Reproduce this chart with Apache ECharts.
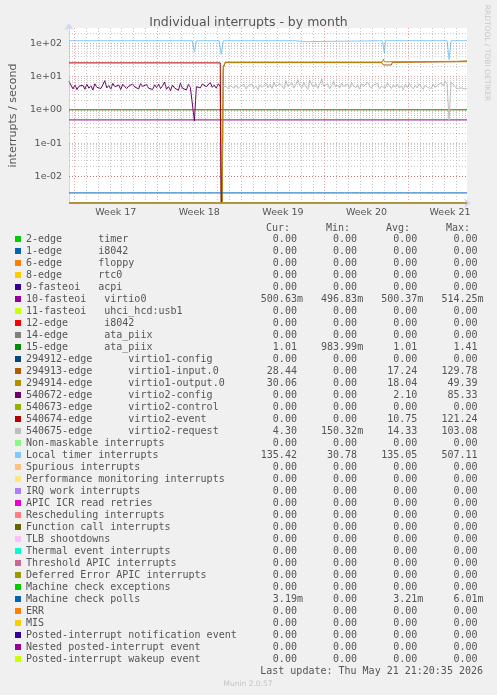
<!DOCTYPE html>
<html><head><meta charset="utf-8">
<script src="https://cdn.jsdelivr.net/npm/echarts@6/dist/echarts.min.js"></script>
<style>html,body{margin:0;padding:0;background:#f0f0f0}#c{width:497px;height:695px}</style>
</head><body><div id="c"></div><script>
// ---------------- data ----------------
const Y_MIN = 0.00158, Y_MAX = 292;           // log axis range (zero values rest on the floor)
const START_UTC = Date.UTC(2026, 3, 19, 14);   // first sample (2 h steps, 400 steps)
const STEP_HOURS = 2;
const N_STEPS = 400;

const legendLabels = [
'2-edge      timer',
'1-edge      i8042',
'6-edge      floppy',
'8-edge      rtc0',
'9-fasteoi   acpi',
'10-fasteoi   virtio0',
'11-fasteoi   uhci_hcd:usb1',
'12-edge      i8042',
'14-edge      ata_piix',
'15-edge      ata_piix',
'294912-edge      virtio1-config',
'294913-edge      virtio1-input.0',
'294914-edge      virtio1-output.0',
'540672-edge      virtio2-config',
'540673-edge      virtio2-control',
'540674-edge      virtio2-event',
'540675-edge      virtio2-request',
'Non-maskable interrupts',
'Local timer interrupts',
'Spurious interrupts',
'Performance monitoring interrupts',
'IRQ work interrupts',
'APIC ICR read retries',
'Rescheduling interrupts',
'Function call interrupts',
'TLB shootdowns',
'Thermal event interrupts',
'Threshold APIC interrupts',
'Deferred Error APIC interrupts',
'Machine check exceptions',
'Machine check polls',
'ERR',
'MIS',
'Posted-interrupt notification event',
'Nested posted-interrupt event',
'Posted-interrupt wakeup event'];

const palette = ['#00CC00','#0066B3','#FF8000','#FFCC00','#330099','#990099','#CCFF00','#FF0000','#808080',
'#008F00','#00487D','#B35A00','#B38F00','#6B006B','#8FB300','#B30000','#BEBEBE','#80FF80','#80C9FF',
'#FFC080','#FFE680','#AA80FF','#EE00CC','#FF8080','#666600','#FFBFFF','#00FFCC','#CC6699','#999900',
'#00CC00','#0066B3','#FF8000','#FFCC00','#330099','#990099','#CCFF00'];

const statCur = ['0.00','0.00','0.00','0.00','0.00','500.63m','0.00','0.00','0.00','1.01','0.00','28.44','30.06','0.00','0.00','0.00','4.30','0.00','135.42','0.00','0.00','0.00','0.00','0.00','0.00','0.00','0.00','0.00','0.00','0.00','3.19m','0.00','0.00','0.00','0.00','0.00'];
const statMin = ['0.00','0.00','0.00','0.00','0.00','496.83m','0.00','0.00','0.00','983.99m','0.00','0.00','0.00','0.00','0.00','0.00','150.32m','0.00','30.78','0.00','0.00','0.00','0.00','0.00','0.00','0.00','0.00','0.00','0.00','0.00','0.00','0.00','0.00','0.00','0.00','0.00'];
const statAvg = ['0.00','0.00','0.00','0.00','0.00','500.37m','0.00','0.00','0.00','1.01','0.00','17.24','18.04','2.10','0.00','10.75','14.33','0.00','135.05','0.00','0.00','0.00','0.00','0.00','0.00','0.00','0.00','0.00','0.00','0.00','3.21m','0.00','0.00','0.00','0.00','0.00'];
const statMax = ['0.00','0.00','0.00','0.00','0.00','514.25m','0.00','0.00','0.00','1.41','0.00','129.78','49.39','85.33','0.00','121.24','103.08','0.00','507.11','0.00','0.00','0.00','0.00','0.00','0.00','0.00','0.00','0.00','0.00','0.00','6.01m','0.00','0.00','0.00','0.00','0.00'];
const statHeaders = ['Cur:', 'Min:', 'Avg:', 'Max:'];

// series values, [sample index, value]
const zeroLine = [[0, 0], [400, 0]];
const virtio0Line = [[0, 0.5006], [400, 0.5006]];
const ataPiix15Line = [[0, 1.01], [400, 1.01]];
const virtio1InputLine = [[0,0],[154,0],[155,18],[157,26.5],[314,26.5],[316,22.5],[324,22.5],[325,27],[360,27.5],[400,28.4]];
const virtio1OutputLine = [[0,0],[154,0],[155,20],[157,27.5],[315,27.5],[316,34],[317,28],[390,29],[400,30]];
const virtio2EventLine = [[0,26],[152,26],[153,0],[400,0]];
const localTimerLine = [[0,121],[124,121],[126,56],[128,121],[151,121],[153,47],[155,121],[228,121],[229,113],[235,113],[236,121],[315,121],[317,50],[318,121],[380,121],[382,33],[384,121],[400,121]];
// virtio2-config: every 2nd sample from index 0
const virtio2ConfigVals = [7.2,6.9,4.3,5.6,4.1,5.2,4.6,5.5,4.2,5.9,
 4.5,5.3,4.0,6.1,4.8,5.0,4.4,5.7,7.6,4.6,
 5.4,4.2,6.3,5.0,4.7,5.6,4.1,5.9,6.6,4.4,
 5.2,4.7,6.0,4.9,5.5,4.3,6.2,5.1,4.8,5.8,
 4.5,5.0,4.1,5.7,4.7,6.0,4.4,5.3,6.9,4.2,
 5.1,3.8,5.6,4.6,5.2,3.9,6.4,4.5,5.1,4.0,
 5.8,4.8,5.4,0.47,5.0,5.7,4.6,6.0,6.5,5.0,
 4.4,6.7,4.8,5.6,4.5,6.1,5.0];
// virtio2-request: every 2nd sample from index 154
const virtio2RequestVals = [5.2,4.6,5.0,4.3,5.4,4.8,4.5,5.6,4.4,5.1,
 4.7,5.8,4.2,5.3,4.9,6.0,4.5,5.2,4.1,5.7,
 4.8,5.5,6.4,4.6,5.9,4.4,6.8,5.0,4.7,6.2,
 5.3,4.3,7.5,5.1,4.9,6.6,4.5,5.8,8.2,5.4,
 4.6,6.9,5.0,4.2,7.8,5.6,4.8,6.3,4.4,5.9,
 8.5,5.2,4.7,6.1,4.3,5.5,7.2,4.9,5.7,4.5,
 6.4,5.1,4.8,5.9,4.4,6.7,5.3,4.6,5.8,4.2,
 6.2,5.0,4.7,6.9,5.4,4.5,5.6,4.9,6.3,4.3,
 5.1,5.8,4.6,6.5,5.2,4.4,5.7,4.8,6.0,4.5,
 5.3,4.1,5.9,4.7,6.4,5.0,4.3,5.5,4.6,6.1,
 4.9,4.2,5.6,4.8,5.2,4.4,6.0,4.7,5.4,4.9,
 6.6,5.3,7.4,5.8,0.48,6.9,7.6,5.1,4.4,5.0,
 4.6,5.2,4.3,4.5];
// machine check polls: flat level with small periodic bumps
const mcpLevel = 0.00318, mcpBump = 0.0035;
const mcpBumpIdx = [1,8,15,23,30,37,45,52,59,66,74,81,88,96,103,110,118,125,132,139,147,154,161,169,176,183,191,198,205,212,220,227,234,242,249,256,264,271,278,285,293,300,307,315,322,329,337,344,351,358,366,373,380,388,395];

const weekLabelPrefix = 'Week ';
const lastUpdate = 'Last update: Thu May 21 21:20:35 2026';

// ---------------- build ----------------
const catDates = [], categories = [];
for (let i = 0; i <= N_STEPS; i++) {
  const d = new Date(START_UTC + i * STEP_HOURS * 3600e3);
  catDates.push(d);
  categories.push(d.toISOString().slice(0, 16));
}
function isoWeek(d) {
  const t = new Date(Date.UTC(d.getUTCFullYear(), d.getUTCMonth(), d.getUTCDate()));
  const day = t.getUTCDay() || 7;
  t.setUTCDate(t.getUTCDate() + 4 - day);
  const y0 = new Date(Date.UTC(t.getUTCFullYear(), 0, 1));
  return Math.ceil(((t - y0) / 86400000 + 1) / 7);
}
const clampLog = v => (v <= 0 ? Y_MIN : v);
const toPairs = arr => arr.map(p => [p[0], clampLog(p[1])]);

const virtio2ConfigLine = virtio2ConfigVals.map((v, k) => [k * 2, v]).concat([[153, 0], [400, 0]]);
const virtio2RequestLine = virtio2RequestVals.map((v, k) => [154 + k * 2, v]);
const mcpLine = [[0, mcpLevel]];
mcpBumpIdx.forEach(i => { mcpLine.push([i - 1, mcpLevel], [i, mcpBump], [i + 1, mcpLevel]); });
mcpLine.push([400, mcpLevel]);

const dataByIndex = {
  5: virtio0Line, 9: ataPiix15Line, 11: virtio1InputLine, 12: virtio1OutputLine,
  13: virtio2ConfigLine, 15: virtio2EventLine, 16: virtio2RequestLine,
  18: localTimerLine, 30: mcpLine
};

const series = legendLabels.map((name, i) => ({
  name, type: 'line', data: toPairs(dataByIndex[i] || zeroLine),
  color: palette[i], showSymbol: false, symbol: 'none', clip: false,
  lineStyle: { width: 1, color: palette[i] }, animation: false, z: 2,
  emphasis: { disabled: true }
}));

// grid lines (rrdtool style) through a helper series' markLine
const gridMinor = 'rgba(150,150,150,0.5)', gridMajor = 'rgba(222,90,90,0.55)';
const markData = [];
catDates.forEach((d, i) => {
  if (d.getUTCHours() === 0) {
    const major = d.getUTCDay() === 1;
    markData.push({ xAxis: i, lineStyle: { color: major ? gridMajor : gridMinor, type: [1, 2], width: 1 } });
  }
});
for (let e = -3; e <= 2; e++) {
  for (let m = 1; m <= 9; m++) {
    const v = m * Math.pow(10, e);
    if (v <= Y_MIN || v >= Y_MAX) continue;
    markData.push({ yAxis: v, lineStyle: { color: m === 1 ? gridMajor : gridMinor, type: [1, 2], width: 1 } });
  }
}
series.unshift({
  name: '__grid', type: 'line', data: [], z: 1, silent: true, animation: false,
  markLine: { silent: true, symbol: 'none', label: { show: false }, animation: false, data: markData }
});

const mono = 'DejaVu Sans Mono';
const txt = '#555';
function splitVal(s) { return /[a-zA-Z]$/.test(s) ? [s.slice(0, -1), s.slice(-1)] : [s, ' ']; }
// monospace columns, as rrdtool prints them
function legendRow(i) {
  let s = legendLabels[i].padEnd(38, ' ');
  [statCur, statMin, statAvg, statMax].forEach((col, k) => {
    const [num, suf] = splitVal(col[i]);
    s += num.padStart(k === 0 ? 7 : 9, ' ') + suf;
  });
  return s;
}

const chart = echarts.init(document.getElementById('c'), null, { width: 497, height: 695, renderer: 'canvas' });
chart.setOption({
  backgroundColor: '#f0f0f0',
  animation: false,
  title: { text: 'Individual interrupts - by month', left: 'center', top: 11,
    textStyle: { fontFamily: 'DejaVu Sans', fontSize: 12.5, fontWeight: 'normal', color: '#555' } },
  grid: { left: 67, top: 28, width: 400, height: 175, show: true, backgroundColor: '#ffffff', borderWidth: 0 },
  xAxis: {
    type: 'category', data: categories, boundaryGap: false,
    axisLine: { show: true, lineStyle: { color: '#CFD6F8', width: 1 }, symbol: ['none', 'arrow'], symbolSize: [7, 7], symbolOffset: [0, 4] },
    axisTick: { show: false },
    splitLine: { show: false },
    axisLabel: {
      interval: (i) => catDates[i].getUTCDay() === 4 && catDates[i].getUTCHours() === 12,
      formatter: (v, i) => weekLabelPrefix + isoWeek(catDates[i]),
      color: '#555', fontFamily: 'DejaVu Sans', fontSize: 9.5, margin: 5
    }
  },
  yAxis: {
    type: 'log', logBase: 10, min: Y_MIN, max: Y_MAX,
    name: 'interrupts / second', nameLocation: 'middle', nameGap: 50,
    nameTextStyle: { fontFamily: 'DejaVu Sans', fontSize: 11, color: '#555' },
    axisLine: { show: true, lineStyle: { color: '#CFD6F8', width: 1 }, symbol: ['none', 'arrow'], symbolSize: [7, 7], symbolOffset: [0, 5] },
    axisTick: { show: false },
    splitLine: { show: false },
    axisLabel: {
      showMinLabel: false, showMaxLabel: false, margin: 7,
      color: '#555', fontFamily: 'DejaVu Sans', fontSize: 9.5,
      formatter: (v) => { const e = Math.round(Math.log10(v)); return '1e' + (e < 0 ? '-' : '+') + String(Math.abs(e)).padStart(2, '0'); }
    }
  },
  legend: {
    data: legendLabels, orient: 'vertical', left: 15, top: 233, padding: 0,
    itemWidth: 6, itemHeight: 6, itemGap: 0, icon: 'rect', selectedMode: false,
    textStyle: { fontFamily: mono, fontSize: 10, color: txt, lineHeight: 12, height: 12 },
    formatter: (name) => legendRow(legendLabels.indexOf(name))
  },
  graphic: [
    ...statHeaders.map((t, k) => ({
      type: 'text', x: 290 + 60 * k, y: 228,
      style: { text: t, font: '10px "DejaVu Sans Mono"', fill: txt, align: 'right', textAlign: 'right', verticalAlign: 'middle', textVerticalAlign: 'middle' }
    })),
    { type: 'text', x: 483, y: 671,
      style: { text: lastUpdate, font: '10px "DejaVu Sans Mono"', fill: txt, align: 'right', textAlign: 'right', verticalAlign: 'middle', textVerticalAlign: 'middle' } },
    { type: 'text', x: 248, y: 684,
      style: { text: 'Munin 2.0.57', font: '7.5px "DejaVu Sans"', fill: '#c4c4c4', align: 'center', textAlign: 'center', verticalAlign: 'middle', textVerticalAlign: 'middle' } },
    { type: 'text', x: 487, y: 53, rotation: -Math.PI / 2,
      style: { text: 'RRDTOOL / TOBI OETIKER', font: '7.5px "DejaVu Sans"', fill: '#c8c8c8', align: 'center', textAlign: 'center', verticalAlign: 'middle', textVerticalAlign: 'middle' } }
  ],
  series
});
</script></body></html>
